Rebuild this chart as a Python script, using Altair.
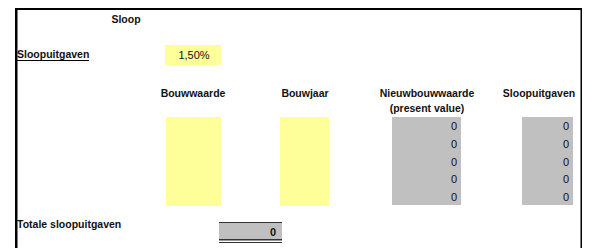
import altair as alt
import pandas as pd

# ---------------- content (read from the sheet) ----------------
sheet_title = "Sloop"
rate_label = "Sloopuitgaven"
rate_value = "1,50%"
column_headers = ["Bouwwaarde", "Bouwjaar", "Nieuwbouwwaarde", "Sloopuitgaven"]
header_subtitles = ["", "", "(present value)", ""]
nieuwbouwwaarde = [0, 0, 0, 0, 0]
sloopuitgaven = [0, 0, 0, 0, 0]
total_label = "Totale sloopuitgaven"
total_value = 0

# ---------------- layout of the sheet grid (page pixels) ----------------
OFF = 8                      # page margin
W, H = 574, 240              # drawing area
YELLOW, GRAY, INK, LINE = "#FFFF99", "#C0C0C0", "#111111", "#333333"
FONT = "Liberation Sans, Arial, sans-serif"
BOLD_SIZE = 10.5
NORMAL_SIZE = 11

header_x = [193, 305, 427, 539]
header_base = 97
sub_base = 112
row_base = [130, 148, 165.5, 183, 200.5]
nieuw_right, sloop_right = 457, 569

def P(v):
    return v - OFF

rect_rows = [
    # sheet border
    (15, 582, 8, 10, "#000000"),
    (15, 17.5, 8, 250, "#000000"),
    (580.5, 582, 8, 250, "#000000"),
    # input / output cells
    (165, 221, 45, 65, YELLOW),
    (166, 221, 117, 206, YELLOW),
    (280, 329, 117, 206, YELLOW),
    (392, 461, 117, 205, GRAY),
    (522, 573, 117, 205, GRAY),
    # underline of the label
    (17, 89, 60, 61, "#000000"),
    # total cell with single top / double bottom border
    (219, 282, 223, 239, GRAY),
    (219, 282, 222, 223, LINE),
    (219, 282, 239, 240.5, LINE),
    (219, 282, 242, 243, LINE),
]
rects = pd.DataFrame(
    [dict(x=P(a), x2=P(b), y=P(c), y2=P(d), fill=f) for a, b, c, d, f in rect_rows]
)

xs = alt.Scale(domain=[0, W], range=[0, W], zero=False, nice=False)
ys = alt.Scale(domain=[0, H], range=[0, H], zero=False, nice=False)

rect_layer = alt.Chart(rects).mark_rect(strokeWidth=0).encode(
    x=alt.X("x:Q", scale=xs, axis=None),
    x2="x2:Q",
    y=alt.Y("y:Q", scale=ys, axis=None),
    y2="y2:Q",
    color=alt.Color("fill:N", scale=None),
)

def text_layer(rows, align, weight, size):
    df = pd.DataFrame([dict(x=P(x), y=P(y), t=t) for x, y, t in rows])
    return alt.Chart(df).mark_text(
        align=align, baseline="alphabetic", font=FONT, fontSize=size,
        fontWeight=weight, color=INK,
    ).encode(
        x=alt.X("x:Q", scale=xs, axis=None),
        y=alt.Y("y:Q", scale=ys, axis=None),
        text="t:N",
    )

bold_center = [(126, 23, sheet_title)]
bold_center += [(hx, header_base, h) for hx, h in zip(header_x, column_headers)]
bold_center += [(hx, sub_base, s) for hx, s in zip(header_x, header_subtitles) if s]
bold_left = [(17, 58, rate_label), (17, 228, total_label)]
bold_right = [(276, 236, str(total_value))]
normal_center = [(194, 59, rate_value)]
normal_right = [(nieuw_right, yb, str(v)) for yb, v in zip(row_base, nieuwbouwwaarde)]
normal_right += [(sloop_right, yb, str(v)) for yb, v in zip(row_base, sloopuitgaven)]

chart = alt.layer(
    rect_layer,
    text_layer(bold_center, "center", "bold", BOLD_SIZE),
    text_layer(bold_left, "left", "bold", BOLD_SIZE),
    text_layer(bold_right, "right", "bold", NORMAL_SIZE),
    text_layer(normal_center, "center", "normal", NORMAL_SIZE),
    text_layer(normal_right, "right", "normal", NORMAL_SIZE),
).properties(
    width=W, height=H, padding=0, autosize="none", background="white"
).configure_view(stroke=None)

chart.save("out.html", embed_options={"renderer": "svg", "actions": False})
